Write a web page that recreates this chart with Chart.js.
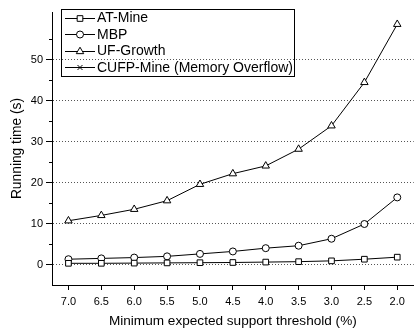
<!DOCTYPE html>
<html>
<head>
<meta charset="utf-8">
<script src="https://cdn.jsdelivr.net/npm/chart.js@4/dist/chart.umd.min.js"></script>
<style>
html,body{margin:0;padding:0;background:#fff;}
#wrap{width:419px;height:332px;}
</style>
</head>
<body>
<div id="wrap"><canvas id="c" width="419" height="332"></canvas></div>
<script>
const categories = ['7.0','6.5','6.0','5.5','5.0','4.5','4.0','3.5','3.0','2.5','2.0'];
const atMine   = [0.3, 0.3, 0.35, 0.4, 0.45, 0.5, 0.6, 0.7, 0.9, 1.3, 1.8];
const mbp      = [1.3, 1.5, 1.7, 2.0, 2.6, 3.2, 4.0, 4.6, 6.3, 9.9, 16.4];
const ufGrowth = [10.7, 12.0, 13.5, 15.6, 19.6, 22.2, 24.1, 28.2, 33.9, 44.5, 58.7];
const cufpMine = []; // memory overflow: no values
const seriesNames = ['AT-Mine','MBP','UF-Growth','CUFP-Mine (Memory Overflow)'];
const yTitle = 'Running time (s)';
const xTitle = 'Minimum expected support threshold (%)';

const FONT = "'Liberation Sans', Arial, sans-serif";

function ds(label, data, style, r) {
  return {
    label, data,
    borderColor:'#000', borderWidth:1,
    pointStyle: style, pointRadius: r, pointHoverRadius: r,
    pointBackgroundColor:'#fff', pointBorderColor:'#000', pointBorderWidth:1,
    tension:0, fill:false
  };
}

const minorTicks = {
  id:'minorTicks',
  afterDraw(chart){
    const y = chart.scales.y, ctx = chart.ctx;
    ctx.save();
    ctx.strokeStyle = '#000'; ctx.lineWidth = 1;
    for (let v = 5; v < 60; v += 10) {
      const py = Math.round(y.getPixelForValue(v)) + 0.5;
      ctx.beginPath(); ctx.moveTo(y.right - 3, py); ctx.lineTo(y.right, py); ctx.stroke();
    }
    ctx.restore();
  }
};

const boxLegend = {
  id:'boxLegend',
  afterDraw(chart){
    const ctx = chart.ctx, a = chart.chartArea;
    const x0 = a.left + 9, y0 = a.top - 3;
    const rowH = 16.5, lineLen = 30, gap = 2;
    ctx.save();
    ctx.font = '14px ' + FONT;
    ctx.textBaseline = 'middle';
    let maxW = 0;
    chart.data.datasets.forEach(d => { maxW = Math.max(maxW, ctx.measureText(d.label).width); });
    const n = chart.data.datasets.length;
    const w = 4 + lineLen + gap + maxW + 1;
    const h = n * rowH + 0.5;
    ctx.strokeStyle = '#000'; ctx.lineWidth = 1;
    ctx.strokeRect(Math.round(x0)+0.5, Math.round(y0)+0.5, Math.round(w), Math.round(h));
    chart.data.datasets.forEach((d, i) => {
      const cy = y0 + 8.5 + i * rowH;
      const lx = x0 + 4;
      ctx.beginPath(); ctx.moveTo(lx, Math.round(cy)+0.5); ctx.lineTo(lx + lineLen, Math.round(cy)+0.5); ctx.stroke();
      ctx.fillStyle = '#fff';
      Chart.helpers.drawPoint(ctx, {pointStyle:d.pointStyle, radius:d.pointRadius, borderWidth:1, rotation:0}, lx + lineLen/2, Math.round(cy)+0.5);
      ctx.fillStyle = '#000';
      ctx.fillText(d.label, lx + lineLen + gap, cy + 1);
    });
    ctx.restore();
  }
};

new Chart(document.getElementById('c'), {
  type:'line',
  data:{
    labels: categories,
    datasets:[
      ds(seriesNames[0], atMine, 'rect', 4),
      ds(seriesNames[1], mbp, 'circle', 3.5),
      ds(seriesNames[2], ufGrowth, 'triangle', 4.3),
      ds(seriesNames[3], cufpMine, 'crossRot', 3.5)
    ]
  },
  options:{
    responsive:false,
    animation:false,
    devicePixelRatio:1,
    layout:{padding:{top:12, right:1, left:0, bottom:0}},
    plugins:{legend:{display:false}, tooltip:{enabled:false}},
    scales:{
      x:{
        type:'category', offset:true,
        grid:{drawOnChartArea:false, drawTicks:true, tickLength:5, tickColor:'#000'},
        border:{display:true, color:'#000', width:1},
        ticks:{color:'#000', font:{family:FONT, size:11}, padding:5, maxRotation:0},
        title:{display:true, text:xTitle, color:'#000', font:{family:FONT, size:13.6}, padding:{top:0, bottom:3}},
        afterFit(s){ s.height = 47; }
      },
      y:{
        type:'linear', min:-5, max:61.7,
        grid:{
          drawTicks:true, tickLength:6,
          color:(c)=> (c.tick && c.tick.value % 10 === 0) ? '#555' : 'rgba(0,0,0,0)',
          tickColor:(c)=> (c.tick && c.tick.value % 10 === 0) ? '#000' : 'rgba(0,0,0,0)'
        },
        border:{display:true, color:'#000', width:1, dash:[1,2]},
        ticks:{stepSize:5, color:'#000', font:{family:FONT, size:11}, padding:3,
          callback:(v)=> (v % 10 === 0) ? String(v) : ''},
        title:{display:true, text:yTitle, color:'#000', font:{family:FONT, size:13.8}, padding:{top:9, bottom:0}},
        afterFit(s){ s.width = 52; }
      }
    }
  },
  plugins:[minorTicks, boxLegend]
});
</script>
</body>
</html>
